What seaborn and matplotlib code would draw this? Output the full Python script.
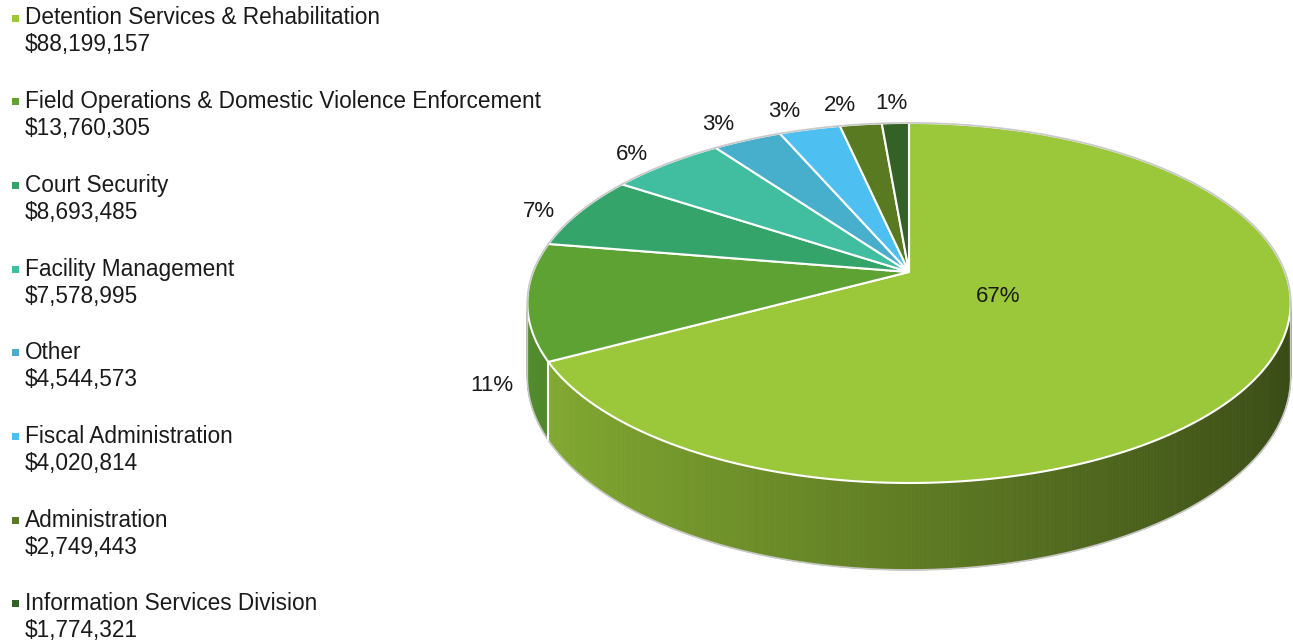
import numpy as np
import matplotlib
matplotlib.use("Agg")
import matplotlib.pyplot as plt
import seaborn as sns
from matplotlib.patches import Polygon
from matplotlib.colors import to_rgb

names = ["Detention Services & Rehabilitation",
         "Field Operations & Domestic Violence Enforcement",
         "Court Security",
         "Facility Management",
         "Other",
         "Fiscal Administration",
         "Administration",
         "Information Services Division"]
amounts = [88199157, 13760305, 8693485, 7578995, 4544573, 4020814, 2749443, 1774321]
colors = ["#9AC83A", "#5EA234", "#34A46A", "#41BE9F", "#47AECB", "#4DBFF0", "#5A7A21", "#346226"]

sns.set_theme(style="white")
plt.rcParams['font.family'] = ['Liberation Sans', 'DejaVu Sans']

W, H = 1293, 642
fig = plt.figure(figsize=(W / 100, H / 100), dpi=100)
ax = fig.add_axes([0, 0, 1, 1])
ax.set_xlim(0, W)
ax.set_ylim(H, 0)
ax.axis('off')

# 3D pie projection parameters
cx, cy = 909, 272
rx, ry, hz, k = 376, 174.7, 72, 0.172


def proj(r, th, z):
    X = r * np.sin(th)
    Y = r * np.cos(th)
    s = 1.0 / (1 + k * Y)
    return cx + X * rx * s, cy - (Y * ry + z * hz) * s


vals = np.array(amounts, dtype=float)
frac = vals / vals.sum()
edges = np.concatenate([[0], np.cumsum(frac)]) * 2 * np.pi

# percentages rounded so they total 100 (largest remainder)
raw = frac * 100
pcts = np.floor(raw).astype(int)
order = np.argsort(-(raw - pcts))
for j in order[:100 - pcts.sum()]:
    pcts[j] += 1

# side faces (painter's algorithm)
quads = []
for i in range(len(vals)):
    a0, a1 = edges[i], edges[i + 1]
    n = max(2, int(np.degrees(a1 - a0) / 0.5))
    ths = np.linspace(a0, a1, n + 1)
    base = np.array(to_rgb(colors[i]))
    for ta, tb in zip(ths[:-1], ths[1:]):
        tm = 0.5 * (ta + tb)
        f = 0.62 - 0.255 * np.sin(tm)
        c = np.clip(base * f, 0, 1)
        p1 = proj(1, ta, 0); p2 = proj(1, tb, 0)
        p3 = proj(1, tb, -1); p4 = proj(1, ta, -1)
        quads.append((np.cos(tm), [p1, p2, p3, p4], c))
quads.sort(key=lambda q: -q[0])
for _, pts, c in quads:
    ax.add_patch(Polygon(pts, closed=True, facecolor=c, edgecolor=c, lw=0.6))

# white seams on side at slice boundaries
for e in edges[:-1]:
    if np.cos(e) < 0.05:
        p_top = proj(1, e, 0); p_bot = proj(1, e, -1)
        ax.plot([p_top[0], p_bot[0]], [p_top[1], p_bot[1]], color="white", lw=1.5)

# top faces
for i in range(len(vals)):
    ths = np.linspace(edges[i], edges[i + 1], 200)
    xs, ys = proj(1, ths, 0)
    pts = [(cx, cy)] + list(zip(xs, ys))
    ax.add_patch(Polygon(pts, closed=True, facecolor=colors[i], edgecolor="white",
                         lw=1.5, joinstyle="round"))

# outer silhouette outline (convex hull)
tt = np.linspace(0, 2 * np.pi, 720)
hx = np.concatenate([proj(1, tt, 0)[0], proj(1, tt, -1)[0]])
hy = np.concatenate([proj(1, tt, 0)[1], proj(1, tt, -1)[1]])
P = sorted(set(zip(np.round(hx, 3), np.round(hy, 3))))


def cross(o, a, b):
    return (a[0] - o[0]) * (b[1] - o[1]) - (a[1] - o[1]) * (b[0] - o[0])


lower, upper = [], []
for p in P:
    while len(lower) >= 2 and cross(lower[-2], lower[-1], p) <= 0:
        lower.pop()
    lower.append(p)
for p in reversed(P):
    while len(upper) >= 2 and cross(upper[-2], upper[-1], p) <= 0:
        upper.pop()
    upper.append(p)
hull = lower[:-1] + upper[:-1]
ax.add_patch(Polygon(hull, closed=True, facecolor="none", edgecolor="#C8C8C8", lw=1.2))

# data labels
prev_x = None
min_gap = 52
for i in range(len(vals)):
    mid = 0.5 * (edges[i] + edges[i + 1])
    pct = f"{pcts[i]}%"
    if frac[i] > 0.5:
        lx, ly = proj(0.27, mid, 0)
    else:
        c = np.cos(mid)
        if c < 0:
            lx, ly = proj(1.09, mid, -1.1)
        else:
            lx, ly = proj(1.11, mid, 0)
            lx -= 5 + 12 * c ** 2
            ly += 8 - 14 * c ** 2
            if prev_x is not None and lx - prev_x < min_gap:
                lx = prev_x + min_gap
            prev_x = lx
    ax.text(lx, ly, pct, ha="center", va="center", fontsize=16, color="#1a1a1a")

# legend
for i, (nm, amt) in enumerate(zip(names, amounts)):
    y0 = 18 + i * 83.7
    ax.add_patch(Polygon([(12, y0 - 3.5), (19, y0 - 3.5), (19, y0 + 3.5), (12, y0 + 3.5)],
                         closed=True, facecolor=colors[i], edgecolor="none"))
    ax.text(25, y0, nm, ha="left", va="center", fontsize=16.3, color="#1a1a1a")
    ax.text(25, y0 + 27, f"${amt:,.0f}", ha="left", va="center", fontsize=16.3, color="#1a1a1a")

fig.savefig("out.png", dpi=100)
